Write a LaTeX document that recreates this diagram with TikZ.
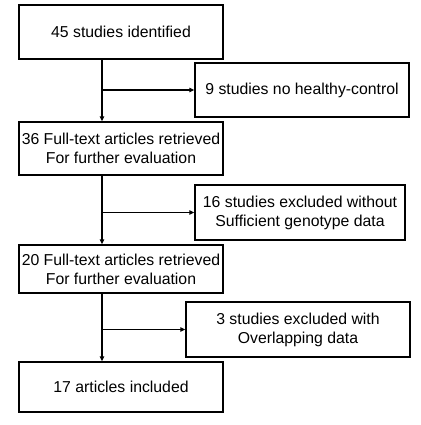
\documentclass[tikz,border=0pt]{standalone}
\usepackage{fontspec}
\setmainfont{Liberation Sans}
\usetikzlibrary{arrows.meta}
\begin{document}
\begin{tikzpicture}[x=1pt,y=1pt,
  box/.style={draw, line width=1.3pt, align=center, inner sep=2pt, font=\fontsize{15.8}{19}\selectfont},
  arr/.style={line width=1.2pt, -{Triangle[length=5pt,width=4.5pt]}}]
\useasboundingbox (0,0) rectangle (420,-425);
\node[box, minimum width=204pt, minimum height=54pt] (b1) at (121,-32) {45 studies identified};
\node[box, minimum width=214pt, minimum height=54pt] (b2) at (302,-90) {9 studies no healthy-control};
\node[box, minimum width=204pt, minimum height=53pt] (b3) at (121,-148.5) {36 Full-text articles retrieved\\For further evaluation};
\node[box, minimum width=210pt, minimum height=55pt] (b4) at (300,-212.5) {16 studies excluded without\\Sufficient genotype data};
\node[box, minimum width=204pt, minimum height=48pt] (b5) at (121,-269) {20 Full-text articles retrieved\\For further evaluation};
\node[box, minimum width=224pt, minimum height=55pt] (b6) at (298,-329.5) {3 studies excluded with\\Overlapping data};
\node[box, minimum width=204pt, minimum height=50pt] (b7) at (121,-387) {17 articles included};
\coordinate (vx) at (102,0);
\draw[arr] (vx |- b1.south) -- (vx |- b3.north);
\draw[arr] (vx |- b2.west) -- (b2.west);
\draw[arr] (vx |- b3.south) -- (vx |- b5.north);
\draw[arr] (vx |- b4.west) -- (b4.west);
\draw[arr] (vx |- b5.south) -- (vx |- b7.north);
\draw[arr] (vx |- b6.west) -- (b6.west);
\end{tikzpicture}
\end{document}
